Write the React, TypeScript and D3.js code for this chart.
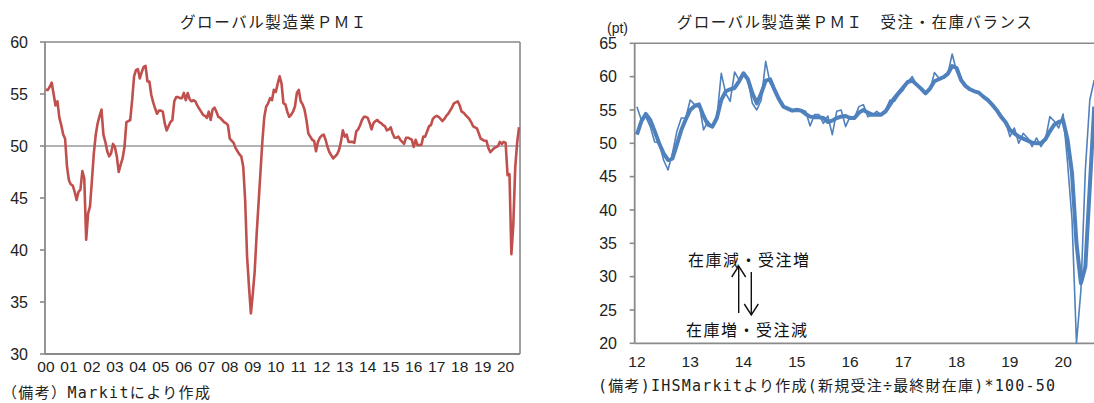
import React from "react";
import * as d3 from "d3";

// ---------- Left chart: Global manufacturing PMI (monthly, 2000-01 .. 2020-08)
const pmiStartYear = 2000;
const pmiValues: number[] = [
  // 2000
  55.4, 55.4, 55.7, 56.1, 55.0, 53.9, 54.3, 52.7, 52.0, 51.1, 50.7, 48.0,
  // 2001
  46.7, 46.3, 46.2, 45.6, 44.8, 45.6, 45.8, 47.6, 46.9, 41.0, 43.5, 44.2,
  // 2002
  46.7, 49.3, 51.1, 52.2, 52.9, 53.5, 51.1, 50.4, 49.5, 49.0, 49.3, 50.2,
  // 2003
  49.9, 49.0, 47.5, 48.2, 48.8, 49.9, 52.3, 52.4, 52.5, 54.4, 56.7, 57.3,
  // 2004
  57.4, 56.5, 57.1, 57.6, 57.7, 56.2, 56.2, 54.9, 54.2, 53.6, 53.1, 53.4,
  // 2005
  53.4, 53.3, 52.2, 51.5, 51.9, 52.3, 52.5, 54.3, 54.7, 54.7, 54.6, 54.6,
  // 2006
  55.1, 54.4, 55.1, 54.5, 54.3, 54.4, 54.3, 53.9, 53.6, 53.3, 53.0, 52.9,
  // 2007
  52.7, 53.3, 52.5, 53.5, 53.7, 53.3, 52.8, 52.7, 52.5, 52.3, 52.2, 52.0,
  // 2008
  50.7, 50.5, 50.3, 49.8, 49.5, 49.2, 49.0, 48.0, 44.8, 39.4, 36.5, 33.9,
  // 2009
  35.8, 38.0, 41.5, 44.5, 47.5, 50.5, 52.8, 53.8, 54.1, 54.6, 54.4, 55.4,
  // 2010
  55.2, 56.0, 56.7, 56.0, 54.1, 54.0, 53.3, 52.8, 53.0, 53.3, 53.8, 55.1,
  // 2011
  55.4, 54.3, 54.0, 53.5, 52.5, 51.2, 50.9, 50.6, 50.5, 49.5, 50.4, 50.8,
  // 2012
  51.0, 51.1, 50.6, 49.9, 49.4, 49.1, 48.8, 49.0, 49.2, 49.6, 50.4, 51.5,
  // 2013
  50.9, 51.1, 50.4, 50.4, 50.4, 50.3, 51.4, 51.6, 52.0, 52.5, 52.8, 52.8,
  // 2014
  52.7, 52.2, 51.6, 52.2, 52.4, 52.5, 52.3, 52.2, 52.0, 51.9, 51.5, 51.6,
  // 2015
  51.8, 51.2, 50.8, 50.8, 50.9, 50.6, 50.4, 50.2, 50.8, 50.8, 50.7, 50.6,
  // 2016
  49.9, 50.6, 50.1, 50.1, 50.1, 50.9, 50.9, 51.4, 51.9, 52.0, 52.6, 52.8,
  // 2017
  52.9, 52.8, 52.6, 52.4, 52.6, 52.9, 53.1, 53.4, 53.7, 54.1, 54.2, 54.3,
  // 2018
  53.9, 53.3, 53.2, 53.0, 52.8, 52.6, 52.3, 51.9, 51.8, 51.7, 51.2, 50.7,
  // 2019
  50.6, 50.5, 50.5, 49.8, 49.4, 49.6, 49.8, 49.9, 50.0, 50.4, 50.2, 50.4,
  // 2020
  50.3, 47.2, 47.3, 39.6, 42.4, 47.9, 50.3, 51.8,
];
const leftYearLabels = [
  "00", "01", "02", "03", "04", "05", "06", "07", "08", "09", "10",
  "11", "12", "13", "14", "15", "16", "17", "18", "19", "20",
];
const leftYTicks = [30, 35, 40, 45, 50, 55, 60];
const leftRefLine = 50;

// ---------- Right chart: orders / inventory balance (monthly, 2012-01 .. 2020-08)
const balanceStartYear = 2012;
const balanceMonthly: number[] = [
  // 2012
  55.5, 53.5, 54.0, 52.5, 50.2, 50.1, 47.5, 46.0, 48.5, 51.8, 53.8, 53.8,
  // 2013
  56.5, 55.8, 56.0, 52.0, 53.3, 52.4, 53.8, 60.5, 57.5, 56.3, 60.7, 59.5,
  // 2014
  60.6, 59.5, 56.0, 55.0, 56.5, 62.3, 59.0, 58.0, 56.8, 55.5, 55.0, 55.0,
  // 2015
  55.2, 55.0, 54.8, 52.6, 54.3, 54.3, 53.0, 54.1, 51.3, 54.8, 55.0, 52.5,
  // 2016
  54.0, 53.8, 55.5, 55.8, 54.0, 54.2, 54.8, 54.3, 55.0, 56.5, 56.3, 57.3,
  // 2017
  58.0, 59.2, 60.0, 58.8, 58.0, 57.5, 58.0, 60.6, 59.8, 60.0, 60.3, 63.4,
  // 2018
  60.8, 59.5, 58.5, 58.0, 57.8, 57.5, 57.0, 56.5, 55.8, 55.0, 54.0, 53.3,
  // 2019
  51.0, 52.3, 50.0, 51.5, 50.8, 49.5, 50.8, 49.5, 50.5, 54.0, 53.3, 52.3,
  // 2020
  54.4, 47.0, 38.5, 20.0, 28.0, 46.0, 56.5, 59.5,
];
const balanceSmoothed: number[] = [
  // 2012
  51.3, 53.3, 54.4, 53.5, 51.8, 50.0, 48.5, 47.5, 47.7, 49.8, 52.0, 53.6,
  // 2013
  55.0, 55.6, 55.8, 54.1, 52.8, 52.5, 53.8, 56.5, 57.8, 58.1, 58.3, 59.3,
  // 2014
  60.5, 59.6, 57.5, 56.0, 57.5, 59.4, 59.6, 58.0, 56.6, 55.5, 55.2, 54.9,
  // 2015
  55.0, 54.9, 54.4, 54.0, 53.9, 53.9, 53.8, 53.2, 53.4, 53.8, 54.0, 54.1,
  // 2016
  53.8, 53.8, 54.6, 55.0, 54.6, 54.3, 54.3, 54.3, 54.8, 55.8, 56.8, 57.6,
  // 2017
  58.4, 59.2, 59.4, 58.8, 58.2, 57.5, 58.2, 59.3, 59.6, 59.9, 60.4, 61.6,
  // 2018
  61.3, 59.5, 58.6, 58.1, 57.8, 57.6, 57.0, 56.5, 55.8, 55.0, 54.0, 53.2,
  // 2019
  52.0, 51.5, 51.0, 50.7, 50.4, 50.1, 50.0, 50.0, 50.6, 51.8, 52.8, 53.2,
  // 2020
  53.4, 50.5, 45.5, 35.0, 29.0, 31.5, 43.5, 55.5,
];
const rightYearLabels = ["12", "13", "14", "15", "16", "17", "18", "19", "20"];
const rightYTicks = [20, 25, 30, 35, 40, 45, 50, 55, 60, 65];

const leftTitle = "グローバル製造業ＰＭＩ";
const rightTitle = "グローバル製造業ＰＭＩ　受注・在庫バランス";
const unitLabel = "(pt)";
const annotUp = "在庫減・受注増";
const annotDown = "在庫増・受注減";
const leftNote = "（備考）Markitにより作成";
const rightNote = "(備考)IHSMarkitより作成(新規受注÷最終財在庫)*100-50";

const NUM_FONT = "'Liberation Sans', Arial, sans-serif";
const JP_FONT = "'Noto Sans CJK JP', sans-serif";
const NOTE_FONT = "'DejaVu Sans Mono', 'Noto Sans CJK JP', monospace";
const AXIS = "#8a8a8a";
const RED = "#C0504D";
const BLUE = "#4F81BD";

export default function App() {
  const W = 1094;
  const H = 403;

  // Left chart geometry
  const L = { left: 45, right: 520, top: 42, bottom: 354 };
  const lx = d3.scaleLinear().domain([-0.5, pmiValues.length - 0.5]).range([L.left, L.right]);
  const ly = d3.scaleLinear().domain([30, 60]).range([L.bottom, L.top]);
  const lLine = d3
    .line<number>()
    .x((_, i) => lx(i))
    .y((d) => ly(d))
    .curve(d3.curveLinear);

  // Right chart geometry (plot continues beyond the picture edge)
  const R = { left: 634.7, top: 43.3, bottom: 343.3 };
  const monthW = 4.44;
  const rCount = balanceMonthly.length;
  const rRight = R.left + rCount * monthW;
  const rx = d3.scaleLinear().domain([-0.5, rCount - 0.5]).range([R.left, rRight]);
  const ry = d3.scaleLinear().domain([20, 65]).range([R.bottom, R.top]);
  const rLine = d3
    .line<number>()
    .x((_, i) => rx(i))
    .y((d) => ry(d));

  const arrowUpX = 738.7;
  const arrowDownX = 751.3;

  return (
    <div style={{ position: "absolute", left: 0, top: 0, width: W, height: H, background: "#fff" }}>
      <svg width={W} height={H} viewBox={`0 0 ${W} ${H}`} style={{ display: "block" }}>
        <rect x={0} y={0} width={W} height={H} fill="#fff" />

        {/* ================= LEFT CHART ================= */}
        <text x={274} y={28} textAnchor="middle" fontFamily={JP_FONT} fontSize={15.5} letterSpacing={1.6} fill="#222">
          {leftTitle}
        </text>
        {/* reference line at 50 */}
        <line x1={L.left} x2={L.right} y1={ly(leftRefLine)} y2={ly(leftRefLine)} stroke="#9a9a9a" strokeWidth={1.6} />
        {/* frame */}
        <line x1={L.left} x2={L.right} y1={L.top} y2={L.top} stroke={AXIS} strokeWidth={1.6} />
        <line x1={L.right} x2={L.right} y1={L.top} y2={L.bottom} stroke={AXIS} strokeWidth={1.6} />
        <line x1={L.left} x2={L.right} y1={L.bottom} y2={L.bottom} stroke={AXIS} strokeWidth={1.8} />
        <line x1={L.left} x2={L.left} y1={L.top} y2={L.bottom} stroke={AXIS} strokeWidth={1.8} />
        {leftYTicks.map((t) => (
          <g key={`lyt${t}`}>
            <line x1={L.left - 5} x2={L.left} y1={ly(t)} y2={ly(t)} stroke={AXIS} strokeWidth={1.6} />
            <text x={28} y={ly(t)} dy="0.36em" textAnchor="end" fontFamily={NUM_FONT} fontSize={16} fill="#222">
              {t}
            </text>
          </g>
        ))}
        {leftYearLabels.map((lab, k) => (
          <text
            key={`lxl${lab}`}
            x={lx(k * 12)}
            y={372}
            textAnchor="middle"
            fontFamily={NUM_FONT}
            fontSize={15.5}
            fill="#222"
          >
            {lab}
          </text>
        ))}
        <path d={lLine(pmiValues) || ""} fill="none" stroke={RED} strokeWidth={2.6} strokeLinejoin="round" />
        <text x={2} y={398} fontFamily={NOTE_FONT} fontSize={15} fill="#222" textLength={208} lengthAdjust="spacing">
          {leftNote}
        </text>

        {/* ================= RIGHT CHART ================= */}
        <text x={855} y={28} textAnchor="middle" fontFamily={JP_FONT} fontSize={15.5} letterSpacing={1.5} fill="#222">
          {rightTitle}
        </text>
        <text x={607} y={33} fontFamily={NUM_FONT} fontSize={14} fill="#222">
          {unitLabel}
        </text>
        <line x1={R.left} x2={rRight} y1={R.top} y2={R.top} stroke={AXIS} strokeWidth={1.6} />
        <line x1={R.left} x2={rRight} y1={R.bottom} y2={R.bottom} stroke={AXIS} strokeWidth={1.8} />
        <line x1={R.left} x2={R.left} y1={R.top} y2={R.bottom} stroke={AXIS} strokeWidth={1.8} />
        {rightYTicks.map((t) => (
          <g key={`ryt${t}`}>
            <line x1={R.left - 5} x2={R.left} y1={ry(t)} y2={ry(t)} stroke={AXIS} strokeWidth={1.6} />
            <text x={617} y={ry(t)} dy="0.36em" textAnchor="end" fontFamily={NUM_FONT} fontSize={16} fill="#222">
              {t}
            </text>
          </g>
        ))}
        {rightYearLabels.map((lab, k) => (
          <text
            key={`rxl${lab}`}
            x={rx(k * 12)}
            y={367}
            textAnchor="middle"
            fontFamily={NUM_FONT}
            fontSize={15.5}
            fill="#222"
          >
            {lab}
          </text>
        ))}
        <path d={rLine(balanceSmoothed) || ""} fill="none" stroke={BLUE} strokeWidth={4} strokeLinejoin="round" />
        <path d={rLine(balanceMonthly) || ""} fill="none" stroke={BLUE} strokeWidth={1.6} strokeLinejoin="round" />

        {/* annotations */}
        <text x={688} y={266} fontFamily={JP_FONT} fontSize={16} letterSpacing={1.5} fill="#111">
          {annotUp}
        </text>
        <text x={686} y={336} fontFamily={JP_FONT} fontSize={16} letterSpacing={1.5} fill="#111">
          {annotDown}
        </text>
        <g stroke="#111" strokeWidth={1.4} fill="none">
          <line x1={arrowUpX} x2={arrowUpX} y1={313} y2={266} />
          <polyline points={`${arrowUpX - 7},${277} ${arrowUpX},${266} ${arrowUpX + 7},${277}`} />
          <line x1={arrowDownX} x2={arrowDownX} y1={272} y2={315} />
          <polyline points={`${arrowDownX - 7},${304} ${arrowDownX},${315} ${arrowDownX + 7},${304}`} />
        </g>

        <text x={598} y={391} fontFamily={NOTE_FONT} fontSize={15} fill="#222" textLength={457} lengthAdjust="spacing">
          {rightNote}
        </text>
      </svg>
    </div>
  );
}
